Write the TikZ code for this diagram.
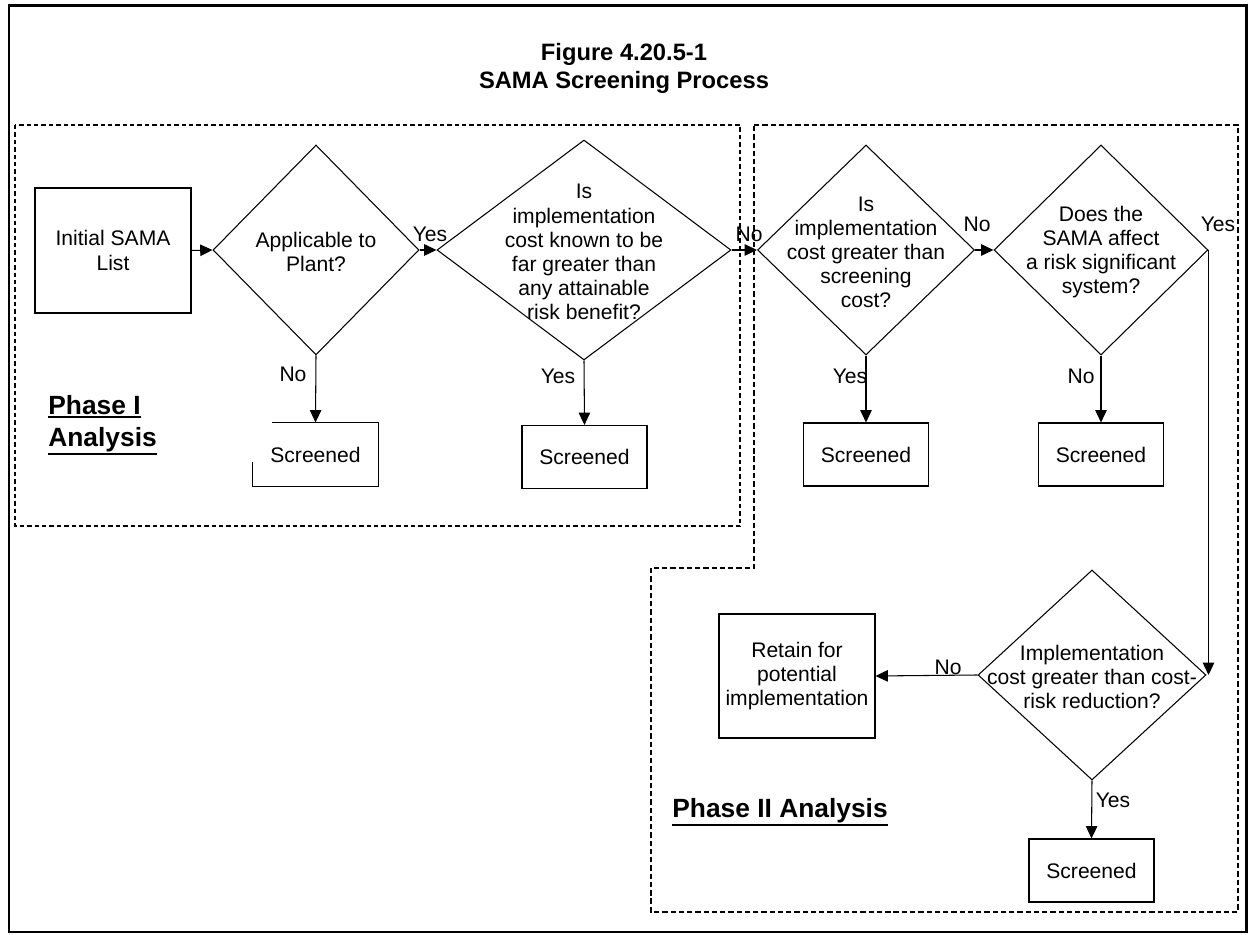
\documentclass[tikz,border=0pt]{standalone}
\usepackage{fontspec}
\setmainfont{Liberation Sans}
\usetikzlibrary{shapes.geometric, arrows.meta, positioning}

% thick underline for the phase captions
\newcommand{\phaseul}[1]{\setbox0\hbox{#1}\rlap{\rule[-\dimexpr\dp0+1.3pt\relax]{\wd0}{1.1pt}}\box0}

\begin{document}
\begin{tikzpicture}[x=0.02cm, y=-0.02cm,
    font=\fontsize{12}{13.7}\selectfont,
    block/.style={rectangle, draw, line width=0.6pt, inner sep=0pt, minimum width=2.5cm, minimum height=1.26cm},
    decision/.style={diamond, draw, line width=0.6pt, inner sep=0pt},
    question/.style={align=center, inner sep=0pt},
    lbl/.style={inner sep=0pt},
    title/.style={font=\fontsize{13.5}{16}\selectfont\bfseries, anchor=base, inner sep=0pt},
    phase/.style={font=\fontsize{15}{19}\selectfont\bfseries, anchor=base west, inner sep=0pt},
    line/.style={draw, line width=0.6pt, -{Triangle[length=7pt, width=6.5pt]}}
]
    \useasboundingbox (0,0) rectangle (1249,935);
    \draw[line width=1.7pt] (9,6) rectangle (1246,932);

    % Title
    \node[title] (fig) at (624,61) {Figure 4.20.5-1};
    \node[title] (ttl) at (624,89) {SAMA Screening Process};

    % Phase frames
    \draw[line width=1.1pt, dash pattern=on 2.5pt off 1.7pt] (15,125) rectangle (740,526);
    \draw[line width=0.6pt, dash pattern=on 3pt off 1.7pt] (754,125) -- (1238,125) -- (1238,912)
        -- (651,912) -- (651,568) -- (754,568) -- cycle;
    \node[phase] (ph1a) at (48,415) {\phaseul{Phase I}};
    \node[phase] (ph1b) at (48,447) {\phaseul{Analysis}};
    \node[phase] (ph2) at (672,818) {\phaseul{Phase II Analysis}};

    % Phase I
    \node[block, minimum width=3.12cm, minimum height=2.5cm, align=center] (init) at (113,250.5) {Initial SAMA\\List};
    \node[decision, minimum width=4.12cm, minimum height=4.2cm] (d1) at (316,250) {};
    \node[question] (d1t) at (316,252) {Applicable to\\Plant?};
    \node[decision, minimum width=5.88cm, minimum height=4.4cm] (d2) at (584,250) {};
    \node[question] (d2t) at (584,252) {Is\\implementation\\cost known to be\\far greater than\\any attainable\\risk benefit?};
    \node[block, draw=none] (s1) at (315.5,454.5) {Screened};
    \draw[line width=0.6pt] ([xshift=0.4cm]s1.north west) -- (s1.north east) -- (s1.south east)
        -- (s1.south west) -- ([yshift=-0.8cm]s1.north west);
    \node[block] (s2) at (584.5,457) {Screened};

    % Phase II
    \node[decision, minimum width=4.34cm, minimum height=4.2cm] (d3) at (866,250) {};
    \node[question] (d3t) at (866,252) {Is\\implementation\\cost greater than\\screening\\cost?};
    \node[decision, minimum width=4.28cm, minimum height=4.2cm] (d4) at (1101,250) {};
    \node[question] (d4t) at (1101,252) {Does the\\SAMA affect\\a risk significant\\system?};
    \node[block] (s3) at (866,454.5) {Screened};
    \node[block] (s4) at (1101,454.5) {Screened};
    \node[decision, minimum width=4.56cm, minimum height=4.2cm] (d5) at (1092,675) {};
    \node[question] (d5t) at (1092,677) {Implementation\\cost greater than cost-\\risk reduction?};
    \node[block, minimum width=3.12cm, minimum height=2.48cm, align=center] (keep) at (797,676) {Retain for\\potential\\implementation};
    \node[block] (s5) at (1091.5,870.5) {Screened};

    % Labels
    \node[lbl] (yes1) at (430,234) {Yes};
    \node[lbl] (no1) at (293,374) {No};
    \node[lbl] (yes2) at (558,376) {Yes};
    \node[lbl] (no2) at (749,234) {No};
    \node[lbl] (yes3) at (850,376) {Yes};
    \node[lbl] (no3) at (977,224) {No};
    \node[lbl] (no4) at (1081,376) {No};
    \node[lbl] (yes4) at (1218,224) {Yes};
    \node[lbl] (no5) at (948,667) {No};
    \node[lbl] (yes5) at (1113,800) {Yes};

    % Connections
    \path[line] (init.east) -- (d1.west);
    \path[line] (d1.east) -- (d2.west);
    \path[line] (d1.south) -- (s1.north);
    \path[line] (d2.south) -- (s2.north);
    \path[line] (d2.east) -- (d3.west);
    \path[line] (d3.south) -- (s3.north);
    \path[line] (d3.east) -- (d4.west);
    \path[line] (d4.south) -- (s4.north);
    \path[line] (d4.east) -- (d4.east |- d5.east);
    \path[line] (d5.west) -- (keep.east);
    \path[line] (d5.south) -- (s5.north);
\end{tikzpicture}
\end{document}
